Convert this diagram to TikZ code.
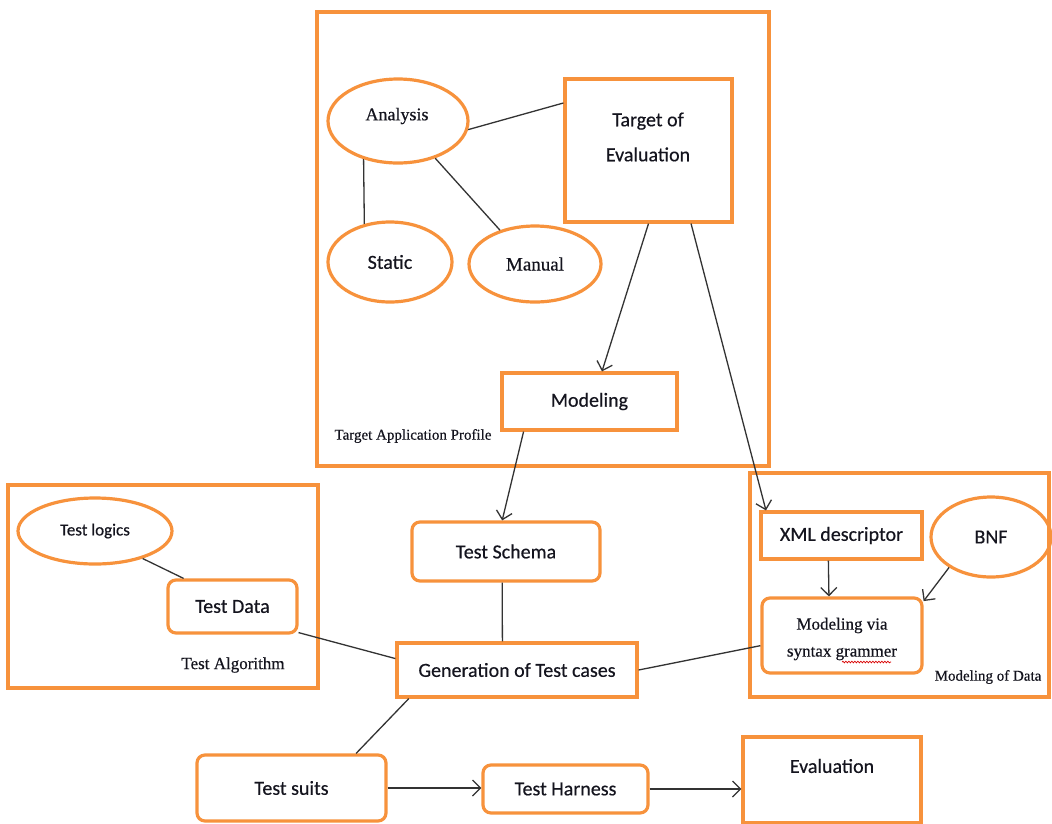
\documentclass[tikz,border=0pt]{standalone}
\usepackage{fontspec}
\setmainfont{Liberation Serif}[FakeBold=0.4]
\newfontfamily\calfont{Carlito}[FakeBold=0.4]
\usetikzlibrary{shapes.geometric,arrows.meta,calc,decorations.pathmorphing}
\definecolor{org}{RGB}{247,146,60}
\definecolor{ink}{RGB}{20,20,30}
\begin{document}
\begin{tikzpicture}[x=1pt,y=-1pt,
  frame/.style={draw=org,line width=3.2pt,rectangle,inner sep=0pt},
  ell/.style={draw=org,line width=3.2pt,ellipse,inner sep=0pt},
  rbox/.style={draw=org,line width=3.2pt,rectangle,rounded corners=8pt,inner sep=0pt},
  sans/.style={font=\calfont\fontsize{20}{24}\selectfont,text=ink},
  ser/.style={font=\fontsize{18}{21}\selectfont,text=ink},
  conn/.style={draw=black!80,line width=1.3pt},
  arr/.style={conn,-{Straight Barb[length=8pt,width=16pt]}},
]
\useasboundingbox[fill=white] (0,0) rectangle (1052,823);

% frames
\node[frame,minimum width=452pt,minimum height=454pt] (tap) at (543,239) {};
\node[frame,minimum width=310pt,minimum height=203pt] (alg) at (163,586.5) {};
\node[frame,minimum width=299pt,minimum height=224pt] (mod) at (899.5,585) {};

% Target application profile
\node[ell,minimum width=140pt,minimum height=84pt,ser] (analysis) at (398,121) {};
\node[ser] (analysistxt) at (397,116) {Analysis};
\node[ell,minimum width=124pt,minimum height=80pt,sans] (static) at (390,262) {Static};
\node[ell,minimum width=132pt,minimum height=76pt,font=\fontsize{19}{22}\selectfont,text=ink] (manual) at (535,264) {Manual};
\node[frame,minimum width=167pt,minimum height=143pt] (toe) at (648.5,150.5) {};
\node[align=center,font=\calfont\fontsize{20}{35}\selectfont,text=ink] (toetxt) at (648,137) {Target of\\Evaluation};
\node[frame,minimum width=175pt,minimum height=57pt,sans] (modeling) at (589.5,401.5) {Modeling};
\node[font=\fontsize{15}{18}\selectfont,text=ink] (taplabel) at (413,436) {Target Application Profile};

% Test algorithm
\node[ell,minimum width=154pt,minimum height=66pt,font=\calfont\fontsize{17}{20}\selectfont,text=ink] (logics) at (95,531) {Test logics};
\node[rbox,minimum width=129pt,minimum height=53pt,sans] (data) at (232.5,606.5) {Test Data};
\node[font=\fontsize{17}{20}\selectfont,text=ink] (alglabel) at (233,665) {Test Algorithm};

% Modeling of data
\node[frame,minimum width=161pt,minimum height=47pt,sans] (xml) at (841.5,535.5) {XML descriptor};
\node[ell,minimum width=120pt,minimum height=80pt,sans] (bnf) at (991,537) {BNF};
\node[rbox,minimum width=160pt,minimum height=75pt] (mvsg) at (842,635.5) {};
\node[align=center,font=\fontsize{17}{27}\selectfont,text=ink] (mvsgtxt) at (842,639) {Modeling via\\syntax grammer};
\draw[red!85!black,line width=0.7pt,decorate,decoration={snake,amplitude=0.8pt,segment length=3pt}] (842,662) -- (891,662);
\node[font=\fontsize{15}{18}\selectfont,text=ink] (modlabel) at (988,677) {Modeling of Data};

% middle and bottom
\node[rbox,minimum width=188pt,minimum height=59pt,sans] (schema) at (506,551.5) {Test Schema};
\node[frame,minimum width=240pt,minimum height=54pt,sans] (gen) at (517,670) {Generation of Test cases};
\node[rbox,minimum width=189pt,minimum height=66pt,sans] (suits) at (291.5,788) {Test suits};
\node[rbox,minimum width=165pt,minimum height=48pt,sans] (harness) at (565.5,789) {Test Harness};
\node[frame,minimum width=178pt,minimum height=86pt] (eval) at (832,780) {};
\node[sans] (evaltxt) at (832,766) {Evaluation};

% connectors
\draw[conn] (analysis.-7) -- ($(toe.north west)!0.175!(toe.south west)$);
\draw[conn] (analysis.-132) -- (static.124);
\draw[conn] (analysis.-45) -- (manual.136);
\draw[arr] (toe.south) -- ($(modeling.north west)!0.57!(modeling.north east)$);
\draw[arr] ($(toe.south west)!0.75!(toe.south east)$) -- ($(xml.north west)!0.04!(xml.north east)$);
\draw[arr] ($(modeling.south west)!0.13!(modeling.south east)$) -- ($(schema.north west)!0.48!(schema.north east)$);
\draw[conn] ($(schema.south west)!0.48!(schema.south east)$) -- ($(gen.north west)!0.44!(gen.north east)$);
\draw[conn] (logics.-30) -- ($(data.north west)!0.13!(data.north east)$);
\draw[conn] ($(data.south east)+(0,-2)$) -- ($(gen.north west)!0.3!(gen.south west)$);
\draw[conn] (gen.east) -- ($(mvsg.north west)!0.63!(mvsg.south west)$);
\draw[arr] ($(xml.south west)!0.42!(xml.south east)$) -- ($(mvsg.north west)!0.42!(mvsg.north east)$);
\draw[arr] (bnf.-144) -- ($(mvsg.north east)!0.06!(mvsg.south east)$);
\draw[conn] ($(gen.south west)!0.055!(gen.south east)$) -- ($(suits.north west)!0.836!(suits.north east)$);
\draw[arr] (suits.east) -- (suits.east -| harness.west);
\draw[arr] (harness.east) -- (harness.east -| eval.west);
\end{tikzpicture}
\end{document}
